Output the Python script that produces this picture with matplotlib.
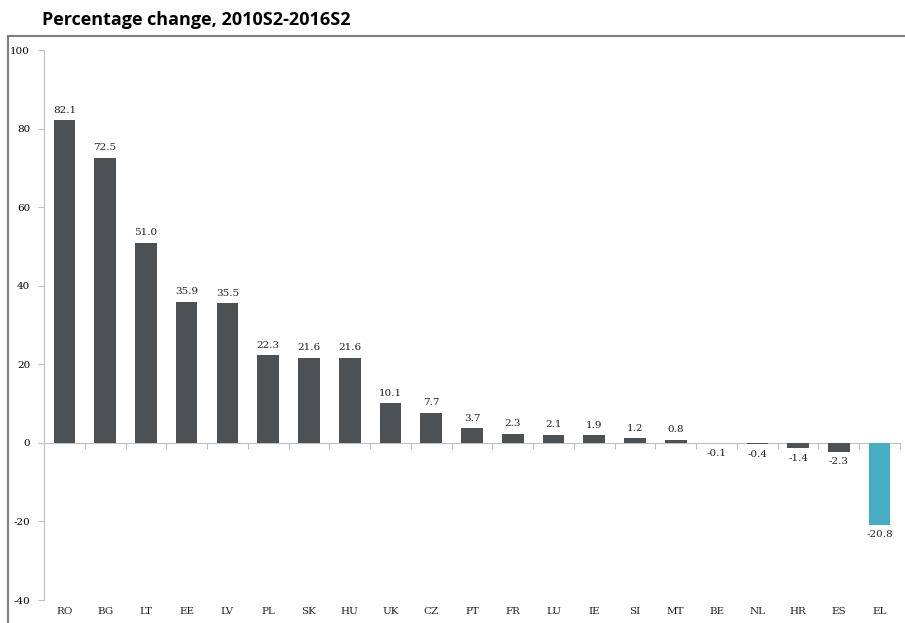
import matplotlib.pyplot as plt
from matplotlib.lines import Line2D

countries = ["RO", "BG", "LT", "EE", "LV", "PL", "SK", "HU", "UK", "CZ", "PT",
             "FR", "LU", "IE", "SI", "MT", "BE", "NL", "HR", "ES", "EL"]
change = [82.1, 72.5, 51.0, 35.9, 35.5, 22.3, 21.6, 21.6, 10.1, 7.7, 3.7,
          2.3, 2.1, 1.9, 1.2, 0.8, -0.1, -0.4, -1.4, -2.3, -20.8]
highlight = "EL"

dark = "#4d5154"
teal = "#45adc4"
serif = "DejaVu Serif"

fig = plt.figure(figsize=(9.05, 6.23), dpi=100)
ax = fig.add_axes([44 / 905, 1 - 600 / 623, (900 - 44) / 905, 550 / 623])

x = list(range(len(countries)))
colors = [teal if c == highlight else dark for c in countries]
ax.bar(x, change, width=0.53, color=colors, zorder=3)

for xi, v in zip(x, change):
    if v >= 0:
        ax.annotate(f"{v:.1f}", (xi, v), xytext=(0, 4), textcoords="offset points",
                    ha="center", va="bottom", fontsize=7.5, family=serif, color="#222222")
    else:
        ax.annotate(f"{v:.1f}", (xi, v), xytext=(0, -4), textcoords="offset points",
                    ha="center", va="top", fontsize=7.5, family=serif, color="#222222")

ax.set_xlim(-0.5, len(countries) - 0.5)
ax.set_ylim(-40, 100)
ax.set_yticks(range(-40, 101, 20))
ax.set_yticklabels([str(t) for t in range(-40, 101, 20)], family=serif, fontsize=7.5)
ax.tick_params(axis="y", length=4, color="#bfbfbf", pad=6)

# x axis sits on the zero line, tick marks between categories
ax.spines["bottom"].set_position(("data", 0))
ax.spines["bottom"].set_color("#c0c0c0")
ax.spines["bottom"].set_zorder(1)
ax.spines["left"].set_color("#c0c0c0")
ax.spines["top"].set_visible(False)
ax.spines["right"].set_visible(False)
ax.set_xticks([i + 0.5 for i in x[:-1]] + [-0.5, len(countries) - 0.5])
ax.set_xticklabels([])
ax.tick_params(axis="x", length=4, color="#c0c0c0", direction="out")

for xi, c in zip(x, countries):
    ax.annotate(c, (xi, -40), xytext=(0, -5), textcoords="offset points",
                ha="center", va="top", fontsize=7.5, family=serif, color="#222222")

# outer frame lines
fig.add_artist(Line2D([8 / 905, 1.0], [1 - 36 / 623] * 2, transform=fig.transFigure,
                      color="#7a7f7f", lw=1.5))
fig.add_artist(Line2D([8 / 905] * 2, [0, 1 - 36 / 623], transform=fig.transFigure,
                      color="#7a7f7f", lw=1.5))

fig.text(42 / 905, 1 - 20 / 623, "Percentage change, 2010S2-2016S2",
         fontsize=13, fontweight="bold", family="Open Sans", va="center", ha="left")

fig.savefig("out.png", dpi=100)
